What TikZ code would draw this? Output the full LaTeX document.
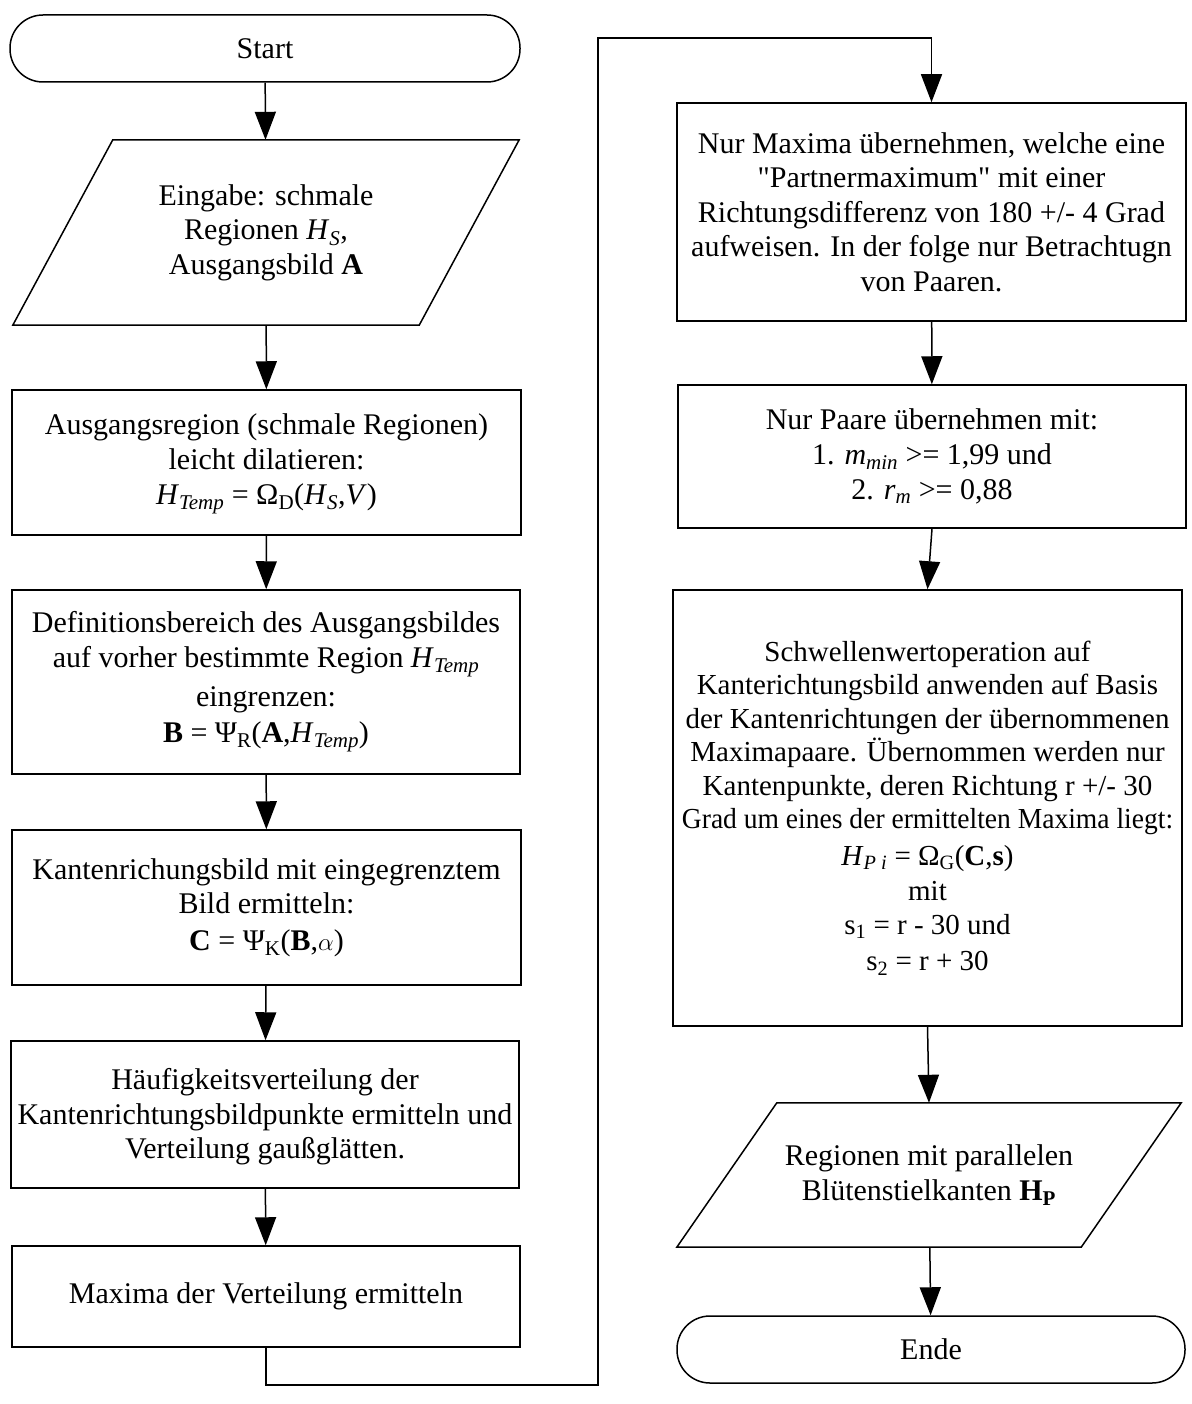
\documentclass[tikz,border=0pt]{standalone}
\usepackage{fontspec}
\setmainfont{Liberation Serif}[Ligatures=TeXOff]
\usetikzlibrary{arrows.meta}
\newcommand{\sub}[1]{\textsubscript{#1}}
\begin{document}
\begin{tikzpicture}[x=1pt,y=-1pt]
\tikzset{
  txt/.style={align=center, font=\fontsize{30}{34.5}\selectfont, inner sep=0pt},
  proc/.style={txt, draw, line width=1.5pt, rectangle},
  term/.style={txt, draw, line width=1.5pt, rectangle, rounded corners=33pt},
  iobox/.style={txt, rectangle},
  ioline/.style={line width=1.5pt, line join=miter},
  arr/.style={line width=1.5pt, -{Triangle[length=28pt,width=21pt]}},
}
\useasboundingbox (0,0) rectangle (1191,1404);
\fill[white] (0,0) rectangle (1191,1404);

% left column
\node[term, minimum width=510, minimum height=67] (start) at (265,48.5) {Start};

\node[iobox, minimum width=506, minimum height=185] (in) at (266,232.5)
  {Eingabe: schmale\\Regionen \textit{H}\sub{\textit{S}},\\Ausgangsbild \textbf{A}};
\draw[ioline] ([xshift=100pt]in.north west) -- (in.north east) -- ([xshift=-100pt]in.south east) -- (in.south west) -- cycle;

\node[proc, minimum width=509, minimum height=145] (a1) at (266.5,462.5)
  {\begin{minipage}[c]{500pt}\centering\vspace{3pt}Ausgangsregion (schmale Regionen)\\leicht dilatieren:\\[1pt]
   \textit{H}\sub{\textit{Temp}} = Ω\sub{D}(\textit{H}\sub{\textit{S}},\textit{V})\end{minipage}};

\node[proc, minimum width=508, minimum height=184] (a2) at (266,682)
  {Definitionsbereich des Ausgangsbildes\\auf vorher bestimmte Region \textit{H}\sub{\textit{Temp}}\\[5pt]
   eingrenzen:\\[1pt] \textbf{B} = Ψ\sub{R}(\textbf{A},\textit{H}\sub{\textit{Temp}})};

\node[proc, minimum width=509, minimum height=155] (a3) at (266.5,907.5)
  {Kantenrichungsbild mit eingegrenztem\\Bild ermitteln:\\[2pt]
   \textbf{C} = Ψ\sub{K}(\textbf{B},$\alpha$)};

\node[proc, minimum width=508, minimum height=147] (a4) at (265,1114.5)
  {\begin{minipage}[c]{500pt}\centering\vspace{5pt}Häufigkeitsverteilung der\\Kantenrichtungsbildpunkte ermitteln und\\Verteilung gaußglätten.\end{minipage}};

\node[proc, minimum width=508, minimum height=101] (a5) at (266,1296.5)
  {Maxima der Verteilung ermitteln};

% right column
\node[proc, minimum width=509, minimum height=218] (b1) at (931.5,212)
  {Nur Maxima übernehmen, welche eine\\"Partnermaximum" mit einer\\Richtungsdifferenz von 180 +/- 4 Grad\\aufweisen. In der folge nur Betrachtugn\\von Paaren.};

\node[proc, minimum width=508, minimum height=143] (b2) at (932,456.5)
  {Nur Paare übernehmen mit:\\1. \textit{m}\sub{\textit{min}} >= 1,99 und\\[1pt]2. \textit{r}\sub{\textit{m}} >= 0,88};

\node[proc, minimum width=509, minimum height=436, font=\fontsize{29}{33.5}\selectfont] (b3) at (927.5,808)
  {Schwellenwertoperation auf\\Kanterichtungsbild anwenden auf Basis\\der Kantenrichtungen der übernommenen\\Maximapaare. Übernommen werden nur\\Kantenpunkte, deren Richtung r +/- 30\\\scalebox{0.95}[1]{Grad um eines der ermittelten Maxima liegt:}\\[3pt]
   \textit{H}\sub{\textit{P i}} = Ω\sub{G}(\textbf{C},\textbf{s})\\[2pt]
   mit\\s\sub{1} = r - 30 und\\[3pt]
   s\sub{2} = r + 30};

\node[iobox, minimum width=504, minimum height=144] (b4) at (929,1175)
  {Regionen mit parallelen\\Blütenstielkanten \textbf{H}\sub{\textbf{P}}};
\draw[ioline] ([xshift=100pt]b4.north west) -- (b4.north east) -- ([xshift=-100pt]b4.south east) -- (b4.south west) -- cycle;

\node[term, minimum width=508, minimum height=67] (end) at (931,1349.5) {Ende};

% connectors
\coordinate (c1) at (598,1385);
\coordinate (c2) at (598,38);
\draw[arr] (start) -- (in);
\draw[arr] (in) -- (a1);
\draw[arr] (a1) -- (a2);
\draw[arr] (a2) -- (a3);
\draw[arr] (a3) -- (a4);
\draw[arr] (a4) -- (a5);
\draw[arr] (a5.south) |- (c1) -- (c2) -| (b1.north);
\draw[arr] (b1) -- (b2);
\draw[arr] (b2.south) -- (b3.north);
\draw[arr] (b3.south) -- (b4.north);
\draw[arr] (b4) -- (end);
\end{tikzpicture}
\end{document}
